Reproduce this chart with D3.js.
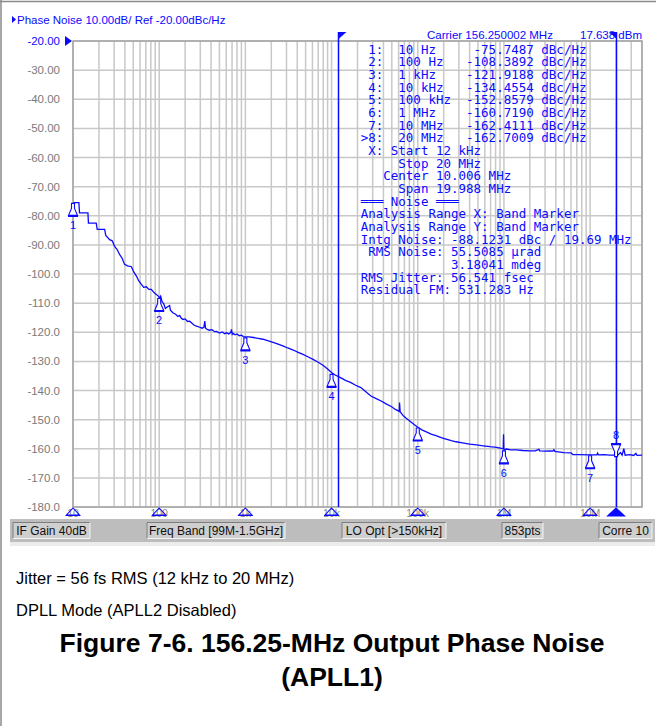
<!DOCTYPE html>
<html>
<head>
<meta charset="utf-8">
<style>
  body { margin: 0; background: #fff; }
  svg { display: block; }
  .mono { font-family: "DejaVu Sans Mono", monospace; white-space: pre; }
  .ui { font-family: "Liberation Sans", Arial, sans-serif; }
</style>
</head>
<body>
<script src="https://d3js.org/d3.v7.min.js"></script>
<script>
// markers (from the analyzer readout)
var markerFreq = [10, 100, 1e3, 1e4, 1e5, 1e6, 1e7, 2e7];
var markerDbc = [-75.7487, -108.3892, -121.9188, -134.4554, -152.8579, -160.7190, -162.4111, -162.7009];
var markerName = ["1", "2", "3", "4", "5", "6", "7", "8"];

// phase noise trace (Hz, dBc/Hz)
var traceFreq = [10, 10.3, 11.7, 11.9, 14.9, 15.1, 18.6, 19.1, 23.3, 24, 26.6, 28.5, 30.4, 32.5, 34.7, 37, 39.7, 43, 47.6, 50.5,
  54.4, 58, 62.2, 66, 71, 76, 81, 87, 92.6, 97, 101, 104, 108, 113, 118, 124, 132, 135, 144, 155,
  165, 173, 180, 188, 200, 213, 226, 240, 255, 271, 290, 315, 330, 338, 345, 354, 380, 410, 440, 464,
  500, 540, 575, 606, 640, 675, 690, 705, 720, 760, 800, 850, 900, 950, 1000, 1100, 1240, 1400, 1600, 1850,
  2100, 2400, 2720, 3100, 3600, 4100, 4660, 5300, 6100, 7000, 7950, 9000, 10000, 11000, 12700, 14500, 16800, 19000, 21900, 25000,
  28600, 33000, 37600, 43000, 49300, 55000, 59500, 61000, 61500, 62500, 68000, 74000, 80000, 90000, 101000, 113000, 126000, 143000, 163000, 187000,
  213000, 245000, 278000, 330000, 400000, 480000, 577000, 690000, 822000, 940000, 980000, 990000, 1000000, 1070000, 1200000, 1400000, 1650000, 1990000, 2300000, 2550000,
  2600000, 3000000, 3400000, 3700000, 3800000, 3900000, 4950000, 6000000, 6300000, 7200000, 10100000, 12000000, 12200000, 12500000, 14500000, 17000000, 21000000, 22500000, 23500000, 24600000,
  25500000, 28800000, 32000000, 34000000, 35000000, 40000000];
var traceDbc = [-79.6, -75.5, -75.5, -79.0, -79.0, -82.5, -82.5, -84.7, -84.7, -86.8, -88.2, -88.6, -90.5, -91.6, -93.3, -94.5, -96.7, -97.2, -97.5, -99.2,
  -100.7, -102.4, -103.6, -104.6, -104.4, -105.3, -105.3, -106.4, -107.0, -107.5, -108.2, -107.6, -109.5, -110.2, -111.8, -111.3, -110.8, -112.4, -113.3, -113.8,
  -114.6, -114.2, -115.1, -115.6, -115.4, -116.3, -116.2, -116.9, -117.6, -117.9, -118.2, -118.6, -118.3, -116.2, -118.6, -118.9, -119.3, -119.1, -119.8, -119.7,
  -120.3, -119.9, -120.5, -120.2, -120.6, -120.1, -119.0, -120.7, -120.4, -120.9, -120.6, -121.2, -121.0, -121.5, -121.6, -121.6, -121.8, -122.1, -122.4, -123.0,
  -123.5, -124.1, -124.7, -125.4, -126.1, -126.9, -127.6, -128.4, -129.3, -130.3, -131.3, -132.6, -133.8, -134.7, -135.6, -136.5, -137.3, -138.2, -139.0, -140.4,
  -141.9, -142.8, -143.6, -144.6, -145.5, -146.5, -147.0, -147.2, -144.1, -147.3, -148.7, -149.6, -150.4, -151.6, -152.7, -153.6, -154.2, -155.0, -155.5, -156.2,
  -156.7, -157.2, -157.6, -158.0, -158.4, -158.7, -159.0, -159.3, -159.5, -159.9, -160.0, -155.0, -160.4, -160.1, -160.4, -160.4, -160.6, -160.7, -160.7, -160.2,
  -160.7, -160.8, -160.7, -160.8, -160.3, -160.9, -161.3, -161.4, -162.0, -162.0, -162.1, -162.1, -161.5, -162.1, -162.0, -162.2, -162.2, -161.3, -162.2, -160.0,
  -162.2, -162.0, -162.3, -161.6, -162.3, -162.2];

var yTickValues = [-20, -30, -40, -50, -60, -70, -80, -90, -100, -110, -120, -130, -140, -150, -160, -170, -180];
var yTickLabels = ["-20.00", "-30.00", "-40.00", "-50.00", "-60.00", "-70.00", "-80.00", "-90.00", "-100.0", "-110.0",
  "-120.0", "-130.0", "-140.0", "-150.0", "-160.0", "-170.0", "-180.0"];
var xTickValues = [10, 100, 1e3, 1e4, 1e5, 1e6, 1e7];
var xTickLabels = ["10", "100", "1k", "10k", "100k", "1M", "10M"];
var bandStart = 12e3, bandStop = 20e6;

var headerText = "Phase Noise 10.00dB/ Ref -20.00dBc/Hz";
var carrierText = "Carrier 156.250002 MHz";
var carrierPower = "17.638 dBm";
var tableLines = [
  " 1:  10 Hz     -75.7487 dBc/Hz",
  " 2:  100 Hz   -108.3892 dBc/Hz",
  " 3:  1 kHz    -121.9188 dBc/Hz",
  " 4:  10 kHz   -134.4554 dBc/Hz",
  " 5:  100 kHz  -152.8579 dBc/Hz",
  " 6:  1 MHz    -160.7190 dBc/Hz",
  " 7:  10 MHz   -162.4111 dBc/Hz",
  ">8:  20 MHz   -162.7009 dBc/Hz",
  " X: Start 12 kHz",
  "     Stop 20 MHz",
  "   Center 10.006 MHz",
  "     Span 19.988 MHz",
  "\u2550\u2550\u2550 Noise \u2550\u2550\u2550",
  "Analysis Range X: Band Marker",
  "Analysis Range Y: Band Marker",
  "Intg Noise: -88.1231 dBc / 19.69 MHz",
  " RMS Noise: 55.5085 \u00b5rad",
  "            3.18041 mdeg",
  "RMS Jitter: 56.541 fsec",
  "Residual FM: 531.283 Hz"
];
var statusItems = ["IF Gain 40dB", "Freq Band [99M-1.5GHz]", "LO Opt [>150kHz]", "853pts", "Corre 10"];
var notes = ["Jitter = 56 fs RMS (12 kHz to 20 MHz)", "DPLL Mode (APLL2 Disabled)"];
var titleLines = ["Figure 7-6. 156.25-MHz Output Phase Noise", "(APLL1)"];

var W = 664, H = 726;
var blue = "#0a0aff";
var plot = { left: 73, right: 642, top: 41, bottom: 507 };

var svg = d3.select("body").append("svg").attr("width", W).attr("height", H);

// page frame (left + top)
svg.append("line").attr("x1", 1).attr("x2", 1).attr("y1", 0).attr("y2", H).attr("stroke", "#8a8a8a").attr("stroke-width", 1.5);
svg.append("line").attr("x1", 0).attr("x2", 656).attr("y1", 1.5).attr("y2", 1.5).attr("stroke", "#8a8a8a").attr("stroke-width", 1.5);

var x = d3.scaleLog().domain([10, 4e7]).range([plot.left, plot.right]);
var y = d3.scaleLinear().domain([-180, -20]).range([plot.bottom, plot.top]);

// grid
var g = svg.append("g");
g.selectAll("line.vg").data(x.ticks()).enter().append("line").attr("class", "vg")
  .attr("x1", d => x(d)).attr("x2", d => x(d))
  .attr("y1", plot.top).attr("y2", plot.bottom)
  .attr("stroke", "#c8c8c8").attr("stroke-width", 1.5);
g.selectAll("line.hg").data(yTickValues).enter().append("line").attr("class", "hg")
  .attr("x1", plot.left).attr("x2", plot.right)
  .attr("y1", d => y(d)).attr("y2", d => y(d))
  .attr("stroke", "#c8c8c8").attr("stroke-width", 1.5);
g.append("rect").attr("x", plot.left).attr("y", plot.top)
  .attr("width", plot.right - plot.left).attr("height", plot.bottom - plot.top)
  .attr("fill", "none").attr("stroke", "#a4a4a4").attr("stroke-width", 1.5);

// y labels
svg.selectAll("text.yl").data(yTickValues).enter().append("text").attr("class", "yl ui")
  .attr("x", 60).attr("y", d => y(d) + 4)
  .attr("text-anchor", "end").attr("font-size", 11.5)
  .attr("fill", (d, i) => i === 0 ? blue : "#7a7a7a")
  .text((d, i) => yTickLabels[i]);
svg.append("path").attr("d", "M65,36 L72,41 L65,46 Z").attr("fill", blue);

// header
svg.append("path").attr("d", "M12,16 L16,19.5 L12,23 Z").attr("fill", blue);
svg.append("text").attr("class", "ui").attr("x", 17).attr("y", 24).attr("font-size", 11.5)
  .attr("fill", blue).text(headerText);
svg.append("text").attr("class", "ui").attr("x", 427).attr("y", 39).attr("font-size", 11.5)
  .attr("fill", blue).text(carrierText);
svg.append("text").attr("class", "ui").attr("x", 642).attr("y", 39).attr("font-size", 11.5)
  .attr("text-anchor", "end").attr("fill", blue).text(carrierPower);

// marker table
svg.selectAll("text.tb").data(tableLines).enter().append("text").attr("class", "tb mono")
  .attr("x", 360.7).attr("y", (d, i) => 49 + i * 12.68 + 4.5)
  .attr("font-size", 12.5).attr("fill", blue)
  .text(d => d);

// trace
var pts = traceFreq.map((f, i) => ({ f: f, v: traceDbc[i] }));
svg.append("clipPath").attr("id", "clip").append("rect")
  .attr("x", plot.left).attr("y", plot.top).attr("width", plot.right - plot.left).attr("height", plot.bottom - plot.top);
svg.append("path").datum(pts)
  .attr("clip-path", "url(#clip)")
  .attr("d", d3.line().x(d => x(d.f)).y(d => y(d.v)))
  .attr("fill", "none").attr("stroke", blue).attr("stroke-width", 1.3);

// band marker lines
[bandStart, bandStop].forEach(function (f, i) {
  var xx = Math.round(x(f)) + 0.5;
  svg.append("line").attr("x1", xx).attr("x2", xx).attr("y1", 32).attr("y2", plot.bottom)
    .attr("stroke", blue).attr("stroke-width", 1.5);
  var flag = i === 0 ? `M${xx},32 L${xx + 8},32 L${xx},39 Z` : `M${xx},32 L${xx - 7},32 L${xx},39 Z`;
  svg.append("path").attr("d", flag).attr("fill", blue);
});

// marker glyphs on the trace
var glyph = "M-1.5,0 H1.5 V5 L4.5,12 H-4.5 L-1.5,5 Z M-5,13 H5";
var mk = svg.selectAll("g.mk").data(markerFreq).enter().append("g").attr("class", "mk")
  .attr("transform", (d, i) => `translate(${x(d)},${y(markerDbc[i])})`);
mk.append("path").attr("d", glyph)
  .attr("transform", (d, i) => i === 7 ? "scale(1,-1)" : null)
  .attr("fill", "#fff").attr("stroke", blue).attr("stroke-width", 1.1);
mk.append("text").attr("class", "ui").attr("x", 0)
  .attr("y", (d, i) => i === 7 ? -18 : 26)
  .attr("text-anchor", "middle").attr("font-size", 11).attr("fill", blue)
  .text((d, i) => markerName[i]);

// x tick labels + marker triangles on the axis
svg.selectAll("text.xl").data(xTickValues).enter().append("text").attr("class", "xl ui")
  .attr("x", d => x(d)).attr("y", 517).attr("text-anchor", "middle")
  .attr("font-size", 10.5).attr("fill", "#8a8a8a")
  .text((d, i) => xTickLabels[i]);
svg.selectAll("path.xm").data(markerFreq).enter().append("path").attr("class", "xm")
  .attr("transform", d => `translate(${x(d)},508)`)
  .attr("d", (d, i) => i === 7 ? "M0,0 L8.5,8 H-8.5 Z" : "M0,0 L6.5,7 H-6.5 Z M-7.5,7.5 H7.5")
  .attr("fill", (d, i) => i === 7 ? blue : "none")
  .attr("stroke", blue).attr("stroke-width", 1.1);

// status bar
var statusBox = [[13, 77], [147, 138], [342, 104], [502, 41], [599, 53]];
svg.append("rect").attr("x", 10).attr("y", 519).attr("width", 645).attr("height", 23).attr("fill", "#bdbdbd");
svg.append("rect").attr("x", 10).attr("y", 542).attr("width", 645).attr("height", 4).attr("fill", "#ececec");
var sb = svg.selectAll("g.sb").data(statusItems).enter().append("g").attr("class", "sb")
  .attr("transform", (d, i) => `translate(${statusBox[i][0]},522.5)`);
sb.append("rect").attr("width", (d, i) => statusBox[i][1]).attr("height", 16).attr("fill", "#cfcfcf");
sb.append("path").attr("d", (d, i) => `M0,16 V0 H${statusBox[i][1]}`).attr("fill", "none").attr("stroke", "#7e7e7e");
sb.append("path").attr("d", (d, i) => `M${statusBox[i][1]},0 V16 H0`).attr("fill", "none").attr("stroke", "#f4f4f4");
sb.append("text").attr("class", "ui").attr("x", (d, i) => statusBox[i][1] / 2).attr("y", 12.5)
  .attr("text-anchor", "middle").attr("font-size", 12).attr("fill", "#111").text(d => d);

// notes + caption
svg.selectAll("text.nt").data(notes).enter().append("text").attr("class", "nt ui")
  .attr("x", 16).attr("y", (d, i) => 584 + i * 32).attr("font-size", 16.5).attr("fill", "#000").text(d => d);
svg.selectAll("text.tt").data(titleLines).enter().append("text").attr("class", "tt ui")
  .attr("x", 332).attr("y", (d, i) => 652 + i * 34).attr("text-anchor", "middle")
  .attr("font-size", 26.5).attr("font-weight", "bold").attr("fill", "#000").text(d => d);
</script>
</body>
</html>
